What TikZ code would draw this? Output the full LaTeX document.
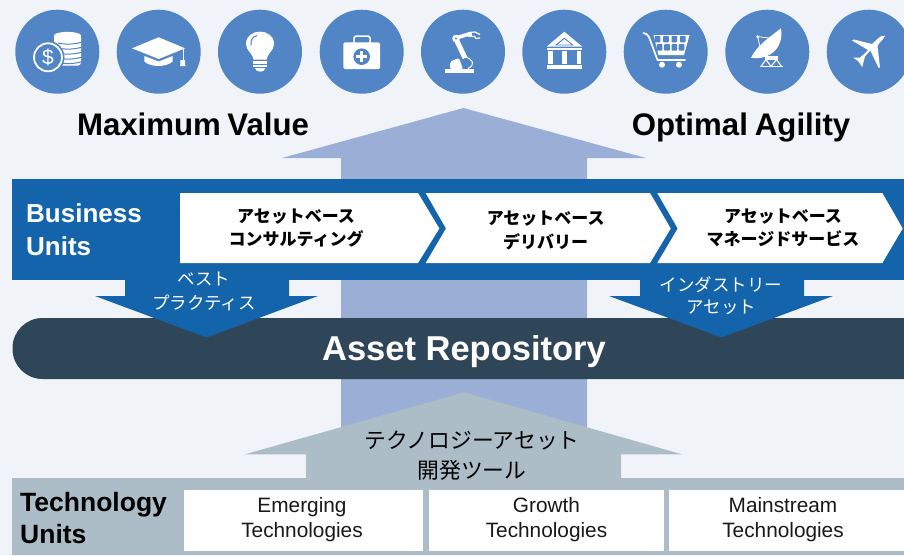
\documentclass[tikz,border=0pt]{standalone}
\usepackage{fontspec}
\setmainfont{Liberation Sans}
\newfontfamily\jpfont{Noto Sans CJK JP}
\usetikzlibrary{calc}
\definecolor{bgc}{HTML}{F0F4F8}
\definecolor{iconblue}{HTML}{5185C6}
\definecolor{bandblue}{HTML}{1464AC}
\definecolor{uparrow}{HTML}{9BAED6}
\definecolor{navy}{HTML}{2F4558}
\definecolor{greyband}{HTML}{ADBDC7}
\tikzset{
  iconcircle/.style={circle,fill=iconblue,inner sep=0pt,minimum size=84pt},
  wline/.style={draw=white,line width=#1,fill=none},
  bline/.style={draw=iconblue,line width=#1,fill=none},
  headline/.style={font=\fontsize{31.2}{34}\selectfont\bfseries,text=black,inner sep=0pt,anchor=base},
  unitlabel/.style={font=\fontsize{#1}{#1}\selectfont\bfseries,inner sep=0pt,anchor=base west},
  jpbold/.style={font=\fontsize{17}{18}\jpfont\bfseries,text=black,inner sep=0pt},
  jpwhite/.style={font=\fontsize{17.5}{19}\jpfont,text=white,inner sep=0pt},
  jpdark/.style={font=\fontsize{21.8}{24}\jpfont,text=black,inner sep=0pt},
  techtext/.style={font=\fontsize{20.8}{22}\selectfont,text=black!90,inner sep=0pt,anchor=base},
}
\begin{document}
\begin{tikzpicture}[x=1pt,y=-1pt]
\useasboundingbox (0,0) rectangle (904,555);
\clip (0,0) rectangle (904,555);
\fill[bgc] (0,0) rectangle (904,555);

% big up arrow
\fill[uparrow] (463.5,108) -- (646,158) -- (587,158) -- (587,480) -- (341,480) -- (341,158) -- (282,158) -- cycle;

% icon discs
\foreach \n/\cx in {a/57.3,b/158.7,c/260,d/361.7,e/463,f/564.3,g/665.7,h/767.3,i/868.7}
  \node[iconcircle] (disc\n) at (\cx,51.7) {};

% coins
\fill[white,rounded corners=3pt] (54,34) rectangle (81,65.5);
\fill[white] (67.5,35.5) ellipse (13.5 and 3.6);
\foreach \yy in {43,48,53,58,62.5}
  \draw[bline=1.0] (58,\yy) .. controls (64,\yy+1.6) and (74,\yy+1.6) .. (81.5,\yy-0.8);
\fill[iconblue] (48,57.3) circle (16.5);
\draw[wline=1.8] (48,57.3) circle (14);
\node[inner sep=0pt,text=white,font=\fontsize{21}{21}\selectfont] (dollar) at (48,57.3) {\$};

% graduation cap
\fill[white] (144.3,56) -- (158.7,61.5) -- (172.7,56) -- (172.7,61.5) .. controls (166,67.5) and (151,67.5) .. (144.3,61.5) -- cycle;
\fill[white] (132,48.3) -- (158.7,37.3) -- (185,48.3) -- (158.7,59) -- cycle;
\draw[wline=1] (183,48.3) -- (183,62);
\fill[white] (180.5,60) -- (185,60) -- (185.3,66) -- (180.2,66) -- cycle;

% bulb
\fill[white] (253.5,59.5) .. controls (252,52) and (246,51) .. (246,44) .. controls (246,36) and (252.5,31.7) .. (260,31.7)
  .. controls (267.5,31.7) and (274,36) .. (274,44) .. controls (274,51) and (268,52) .. (266.7,59.5) -- cycle;
\draw[bline=1.1] (251,45) .. controls (250.5,39.5) and (253,36.5) .. (257,35.5);
\fill[white] (253.3,61) rectangle (266.8,63.5);
\fill[white] (253.3,64.7) rectangle (266.8,67);
\fill[white] (255,68) -- (265.5,68) .. controls (265,70.5) and (263,71.7) .. (260.3,71.7) .. controls (257.5,71.7) and (255.5,70.5) .. (255,68) -- cycle;

% medical case
\draw[wline=1.5,rounded corners=1.5pt] (354,43) -- (354,36.2) -- (370,36.2) -- (370,43);
\fill[white,rounded corners=1.5pt] (343.3,42.3) rectangle (380,69);
\fill[iconblue] (361.7,56.7) circle (8.3);
\fill[white] (360,51.2) rectangle (363.4,62.2);
\fill[white] (356.2,55) rectangle (367.2,58.4);

% robot arm
\fill[white] (445,69) rectangle (474.3,72.5);
\fill[white,rounded corners=2pt] (450,69) -- (450,61.5) -- (459,58) -- (463,69) -- cycle;
\draw[wline=1] (465,56.5) .. controls (473,60) and (476,64) .. (468,68.5);
\draw[wline=5] (456,39) -- (465,58);
\draw[wline=3.6] (456,38) -- (469,34);
\fill[white] (456,38.5) circle (3.8);
\fill[iconblue] (456,38.5) circle (1.2);
\draw[wline=1.2] (469,32.5) -- (475,32) -- (480,34.5);
\draw[wline=1.2] (469,36) -- (474.5,36.5) -- (476,38.5) -- (480,38);
\fill[white] (468,31.5) rectangle (471.5,37);

% bank
\fill[white] (564.3,31.7) -- (582.3,46.7) -- (546.7,46.7) -- cycle;
\draw[bline=0.9] (564.3,38.3) -- (572.7,45) -- (556,45) -- cycle;
\fill[white] (546.7,47.7) rectangle (582.3,50);
\fill[white] (548.3,51) rectangle (552.7,64);
\fill[white] (562,51) rectangle (566.7,64);
\fill[white] (577,51) rectangle (581,64);
\fill[white] (546.7,65.3) rectangle (582.3,69);

% cart
\draw[wline=1.7,line join=round,line cap=round] (643.3,33) .. controls (646,33.5) and (648,34.5) .. (649,37) -- (657.5,60) -- (685,60);
\fill[white] (653.5,35) -- (689.5,35) -- (684,55) -- (658.5,55) -- cycle;
\foreach \cx/\cy in {657.5/38.3,666/38.3,674.3/38.3,682.8/38.3,659.5/46.5,667/46.5,674.3/46.5,681.5/46.5}
  \fill[iconblue,rounded corners=0.7pt] (\cx-2.8,\cy-2.4) rectangle (\cx+2.8,\cy+4);
\fill[white] (662,64.7) circle (3);
\fill[white] (679,64.7) circle (3);

% satellite dish
\fill[white] (781,28.3) .. controls (783,40) and (778,50) .. (770,54.5) .. controls (764,58) and (757,59) .. (751,57.7)
  .. controls (755,50) and (760,45) .. (768,38.3) -- cycle;
\draw[wline=0.8] (757.7,36.7) -- (769,38);
\draw[wline=0.8] (757.7,36.7) -- (760,47);
\fill[white] (757.7,36.7) circle (1.6);
\fill[white] (765,56) rectangle (778,60);
\draw[wline=1.1,line join=round] (761,66.5) -- (766,59.5) -- (771,66.5) -- (776.5,59.5) -- (781.5,66.5);
\fill[white] (760,65.8) rectangle (783.3,67.3);

% plane
\fill[white] (885,35.7) .. controls (884,38) and (882,40.5) .. (879,43.5) -- (877.5,46) -- (880,67.7) -- (878.5,67.7) -- (870.3,50.5) -- (865,56.5) -- (864,60) -- (862.3,67) -- (858,61) -- (853,57.5) -- (859.5,57.8) -- (863,55) -- (868,50) -- (852,40.5) -- (854,39.5) -- (872,44) -- (878,38.5) .. controls (881,36) and (883.5,35) .. (885,35.7) -- cycle;

% Business band
\fill[bandblue] (12,179) rectangle (904,280);
\fill[white] (180,193) -- (418,193) -- (439.3,228.5) -- (418,263) -- (180,263) -- cycle;
\fill[white] (425.7,193) -- (650,193) -- (670.7,228.5) -- (650,263) -- (425.7,263) -- (446,228.5) -- cycle;
\fill[white] (657.3,193) -- (882.3,193) -- (902.7,228.5) -- (882.3,263) -- (657.3,263) -- (677.7,228.5) -- cycle;

% Asset repository bar
\fill[navy,rounded corners=30pt] (12.5,318) rectangle (934,379);

% blue down arrows
\fill[bandblue] (125,279) -- (289,279) -- (289,296) -- (318,296) -- (206.5,337.5) -- (95,296) -- (125,296) -- cycle;
\fill[bandblue] (640,279) -- (804,279) -- (804,296) -- (833,296) -- (721.5,337.5) -- (609,296) -- (640,296) -- cycle;

% Technology band + arrow
\fill[greyband] (464,392.3) -- (682,454.3) -- (621,454.3) -- (621,478) -- (904,478) -- (904,555) -- (12,555) -- (12,478) -- (306,478) -- (306,454.3) -- (245,454.3) -- cycle;
\fill[white] (184,490) rectangle (423,551);
\fill[white] (429,490) rectangle (664,551);
\fill[white] (669,490) rectangle (904,551);

% Texts
\node[headline] (maxval) at (193,135) {Maximum\hspace{6.5pt}Value};
\node[headline] (optag) at (741,135) {Optimal\hspace{7pt}Agility};
\node[unitlabel=26,text=white] (bu1) at (26,222.7) {Business};
\node[unitlabel=26,text=white] (bu2) at (26,255) {Units};
\node[jpbold] (c1) at (296,216.7) {アセットベース};
\node[jpbold] (c2) at (296,239) {コンサルティング};
\node[jpbold] (d1) at (545.7,219) {アセットベース};
\node[jpbold] (d2) at (545.7,241.5) {デリバリー};
\node[jpbold] (m1) at (783,216.7) {アセットベース};
\node[jpbold] (m2) at (783,239) {マネージドサービス};
\node[jpwhite] (b1) at (204,279) {ベスト};
\node[jpwhite] (b2) at (204,302.5) {プラクティス};
\node[jpwhite] (i1) at (721,284.5) {インダストリー};
\node[jpwhite] (i2) at (721.5,307.5) {アセット};
\node[inner sep=0pt,text=white,anchor=base,font=\fontsize{34.5}{36}\selectfont\bfseries] (repo) at (464,360) {Asset Repository};
\node[jpdark] (t1) at (472,441) {テクノロジーアセット};
\node[jpdark] (t2) at (472,470) {開発ツール};
\node[unitlabel=26.5,text=black] (tu1) at (20,511.7) {Technology};
\node[unitlabel=26.5,text=black] (tu2) at (20,543) {Units};
\node[techtext] (e1) at (302,512) {Emerging};
\node[techtext] (e2) at (302,537) {Technologies};
\node[techtext] (g1) at (546.5,512) {Growth};
\node[techtext] (g2) at (546.5,537) {Technologies};
\node[techtext] (s1) at (783,512) {Mainstream};
\node[techtext] (s2) at (783,537) {Technologies};
\end{tikzpicture}
\end{document}
